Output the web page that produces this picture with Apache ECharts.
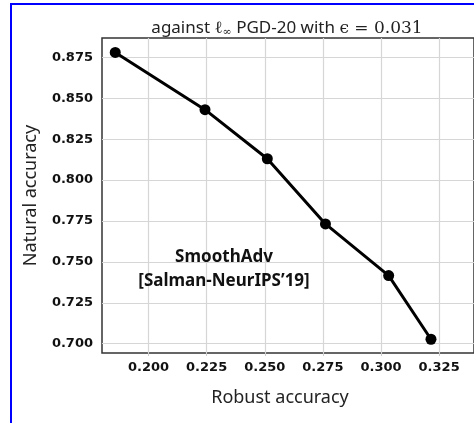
<!DOCTYPE html>
<html>
<head>
<meta charset="utf-8">
<script src="https://cdn.jsdelivr.net/npm/echarts@6/dist/echarts.min.js"></script>
<style>
  html, body { margin: 0; padding: 0; background: #fff; }
  #chart { width: 474px; height: 423px; }
</style>
</head>
<body>
<div id="chart"></div>
<script>
// robust accuracy (x) vs natural accuracy (y)
const robustAcc = [0.1857, 0.2243, 0.2511, 0.2761, 0.3033, 0.3215];
const naturalAcc = [0.878, 0.843, 0.813, 0.7732, 0.7416, 0.7027];
const xTicks = [0.200, 0.225, 0.250, 0.275, 0.300, 0.325];
const yTicks = [0.700, 0.725, 0.750, 0.775, 0.800, 0.825, 0.850, 0.875];

const chart = echarts.init(document.getElementById('chart'));

const tickFont = {
  fontFamily: 'DejaVu Sans',
  fontWeight: 'bold',
  fontSize: 13,
  color: '#111'
};

const option = {
  animation: false,
  backgroundColor: '#fff',
  title: {
    text: '{s|against }{m|ℓ}{sub|∞}{s| PGD-20 with }{m|ϵ = 0.031}',
    left: 282,
    top: 14,
    textAlign: 'center',
    textStyle: {
      fontWeight: 'normal',
      rich: {
        s: { fontFamily: 'Noto Sans', fontSize: 17, fontWeight: 'normal', color: '#222' },
        m: { fontFamily: 'DejaVu Serif', fontSize: 17, fontWeight: 'normal', color: '#222' },
        sub: { fontFamily: 'DejaVu Serif', fontSize: 11, fontWeight: 'normal', color: '#222', padding: [8, 0, 0, 0] }
      }
    }
  },
  grid: {
    left: 102,
    top: 38,
    right: -4,
    bottom: 70,
    show: true,
    borderColor: '#333',
    borderWidth: 1.5
  },
  xAxis: {
    type: 'value',
    min: 0.18,
    max: 0.34,
    name: 'Robust accuracy',
    nameLocation: 'middle',
    nameGap: 36,
    nameTextStyle: {
      fontFamily: 'Noto Sans',
      fontSize: 18,
      color: '#222',
      padding: [0, 16, 0, 0]
    },
    axisLine: { show: false },
    axisTick: { show: true, length: 3, lineStyle: { color: '#ccc' }, customValues: xTicks },
    axisLabel: Object.assign({ margin: 8, customValues: xTicks, formatter: v => v.toFixed(3) }, tickFont),
    splitLine: { show: true, lineStyle: { color: '#d6d6d6', width: 1.2 } }
  },
  yAxis: {
    type: 'value',
    min: 0.6943,
    max: 0.8868,
    name: 'Natural accuracy',
    nameLocation: 'middle',
    nameGap: 62,
    nameTextStyle: {
      fontFamily: 'Noto Sans',
      fontSize: 18,
      color: '#222'
    },
    axisLine: { show: false },
    axisTick: { show: false, customValues: yTicks },
    axisLabel: Object.assign({ margin: 9, customValues: yTicks, formatter: v => v.toFixed(3) }, tickFont),
    splitLine: { show: true, lineStyle: { color: '#d6d6d6', width: 1.2 } }
  },
  series: [
    {
      type: 'line',
      data: robustAcc.map((x, i) => [x, naturalAcc[i]]),
      symbol: 'circle',
      symbolSize: 11,
      lineStyle: { color: '#000', width: 3 },
      itemStyle: { color: '#000' }
    }
  ],
  graphic: [
    {
      type: 'rect',
      shape: { x: 11, y: 4, width: 480, height: 430 },
      style: { fill: 'none', stroke: '#0000ff', lineWidth: 2 },
      z: 100
    },
    {
      type: 'text',
      x: 224,
      y: 245,
      style: {
        text: 'SmoothAdv\n[Salman-NeurIPS’19]',
        fontFamily: 'Noto Sans',
        fontWeight: 'bold',
        fontSize: 17,
        lineHeight: 24,
        align: 'center',
        verticalAlign: 'top',
        fill: '#111'
      },
      z: 100
    }
  ]
};

chart.setOption(option);
</script>
</body>
</html>
